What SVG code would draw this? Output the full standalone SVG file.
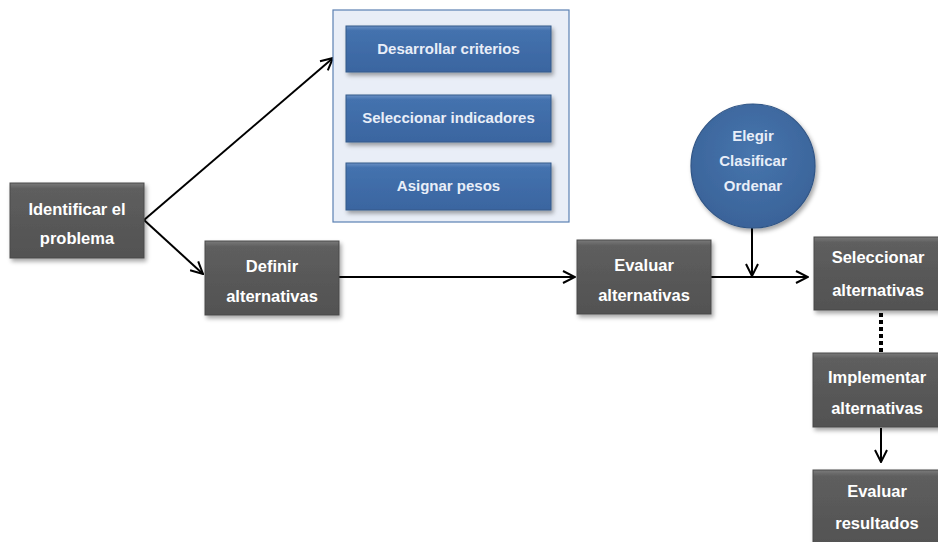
<svg xmlns="http://www.w3.org/2000/svg" width="938" height="542" viewBox="0 0 938 542">
<style>
.g{fill:url(#gg);stroke:#4a4a4a;stroke-width:1;filter:url(#sh)}
.b{fill:url(#bg);stroke:#345a8a;stroke-width:1;filter:url(#sh)}
.t{font-family:"Liberation Sans",Arial,sans-serif;font-weight:bold;font-size:16.5px;fill:#ffffff;text-anchor:middle}
.tb{font-family:"Liberation Sans",Arial,sans-serif;font-weight:bold;font-size:15px;fill:#e8eef8;text-anchor:middle}
.c{stroke:#000;stroke-width:2;fill:none}
</style>
<defs>
<linearGradient id="gg" x1="0" y1="0" x2="0" y2="1">
<stop offset="0" stop-color="#7a7a7a"/><stop offset="0.08" stop-color="#5e5e5e"/><stop offset="1" stop-color="#525252"/>
</linearGradient>
<linearGradient id="bg" x1="0" y1="0" x2="0" y2="1">
<stop offset="0" stop-color="#6a90c4"/><stop offset="0.1" stop-color="#4472ae"/><stop offset="1" stop-color="#3a65a0"/>
</linearGradient>
<radialGradient id="cg" cx="0.5" cy="0.4" r="0.6">
<stop offset="0" stop-color="#4775ad"/><stop offset="1" stop-color="#3a6399"/>
</radialGradient>
<filter id="sh" x="-10%" y="-10%" width="130%" height="140%">
<feDropShadow dx="2" dy="3" stdDeviation="2" flood-color="#000" flood-opacity="0.35"/>
</filter>
<marker id="ah" viewBox="0 0 14 14" refX="13" refY="7" markerWidth="14" markerHeight="14" markerUnits="userSpaceOnUse" orient="auto">
<path d="M1,1 L13,7 L1,13" fill="none" stroke="#000" stroke-width="2"/>
</marker>
</defs>
<rect width="938" height="542" fill="#ffffff"/>
<g id="connectors">
<line class="c" x1="144" y1="220" x2="333" y2="58" marker-end="url(#ah)"/>
<line class="c" x1="144" y1="220" x2="203" y2="274" marker-end="url(#ah)"/>
<line class="c" x1="339" y1="277" x2="575" y2="277" marker-end="url(#ah)"/>
<line class="c" x1="711" y1="277" x2="808" y2="277" marker-end="url(#ah)"/>
<line class="c" x1="752" y1="228" x2="752" y2="276" marker-end="url(#ah)"/>
<line x1="881" y1="313" x2="881" y2="352" stroke="#000" stroke-width="4" stroke-dasharray="4,3"/>
<line class="c" x1="881" y1="428" x2="881" y2="462" marker-end="url(#ah)"/>
</g>
<g id="panel">
<rect x="333" y="10" width="236" height="212" fill="#e9eef7" stroke="#5b80b2" stroke-width="1.2"/>
</g>
<g id="desarrollar">
<rect class="b" x="346" y="26" width="205" height="46"/>
<text class="tb" x="448.5" y="54">Desarrollar criterios</text>
</g>
<g id="seleccionar-ind">
<rect class="b" x="346" y="95" width="205" height="47"/>
<text class="tb" x="448.5" y="123">Seleccionar indicadores</text>
</g>
<g id="asignar">
<rect class="b" x="346" y="163" width="205" height="47"/>
<text class="tb" x="448.5" y="191">Asignar pesos</text>
</g>
<g id="identificar">
<rect class="g" x="10" y="183" width="134" height="75"/>
<text class="t" x="77" y="215">Identificar el</text>
<text class="t" x="77" y="244">problema</text>
</g>
<g id="definir">
<rect class="g" x="205" y="241" width="134" height="74"/>
<text class="t" x="272" y="272">Definir</text>
<text class="t" x="272" y="302">alternativas</text>
</g>
<g id="evaluar">
<rect class="g" x="577" y="240" width="134" height="74"/>
<text class="t" x="644" y="271">Evaluar</text>
<text class="t" x="644" y="301">alternativas</text>
</g>
<g id="circulo">
<circle cx="753" cy="166" r="62" fill="url(#cg)" stroke="#2f5485" stroke-width="1.2" filter="url(#sh)"/>
<text class="tb" x="753" y="141">Elegir</text>
<text class="tb" x="753" y="166">Clasificar</text>
<text class="tb" x="753" y="191">Ordenar</text>
</g>
<g id="seleccionar-alt">
<rect class="g" x="814" y="237" width="140" height="73"/>
<text class="t" x="878" y="263">Seleccionar</text>
<text class="t" x="878" y="296">alternativas</text>
</g>
<g id="implementar">
<rect class="g" x="813" y="353" width="140" height="74"/>
<text class="t" x="877" y="383">Implementar</text>
<text class="t" x="877" y="414">alternativas</text>
</g>
<g id="evaluar-res">
<rect class="g" x="813" y="470" width="140" height="80"/>
<text class="t" x="877" y="497">Evaluar</text>
<text class="t" x="877" y="529">resultados</text>
</g>
</svg>
